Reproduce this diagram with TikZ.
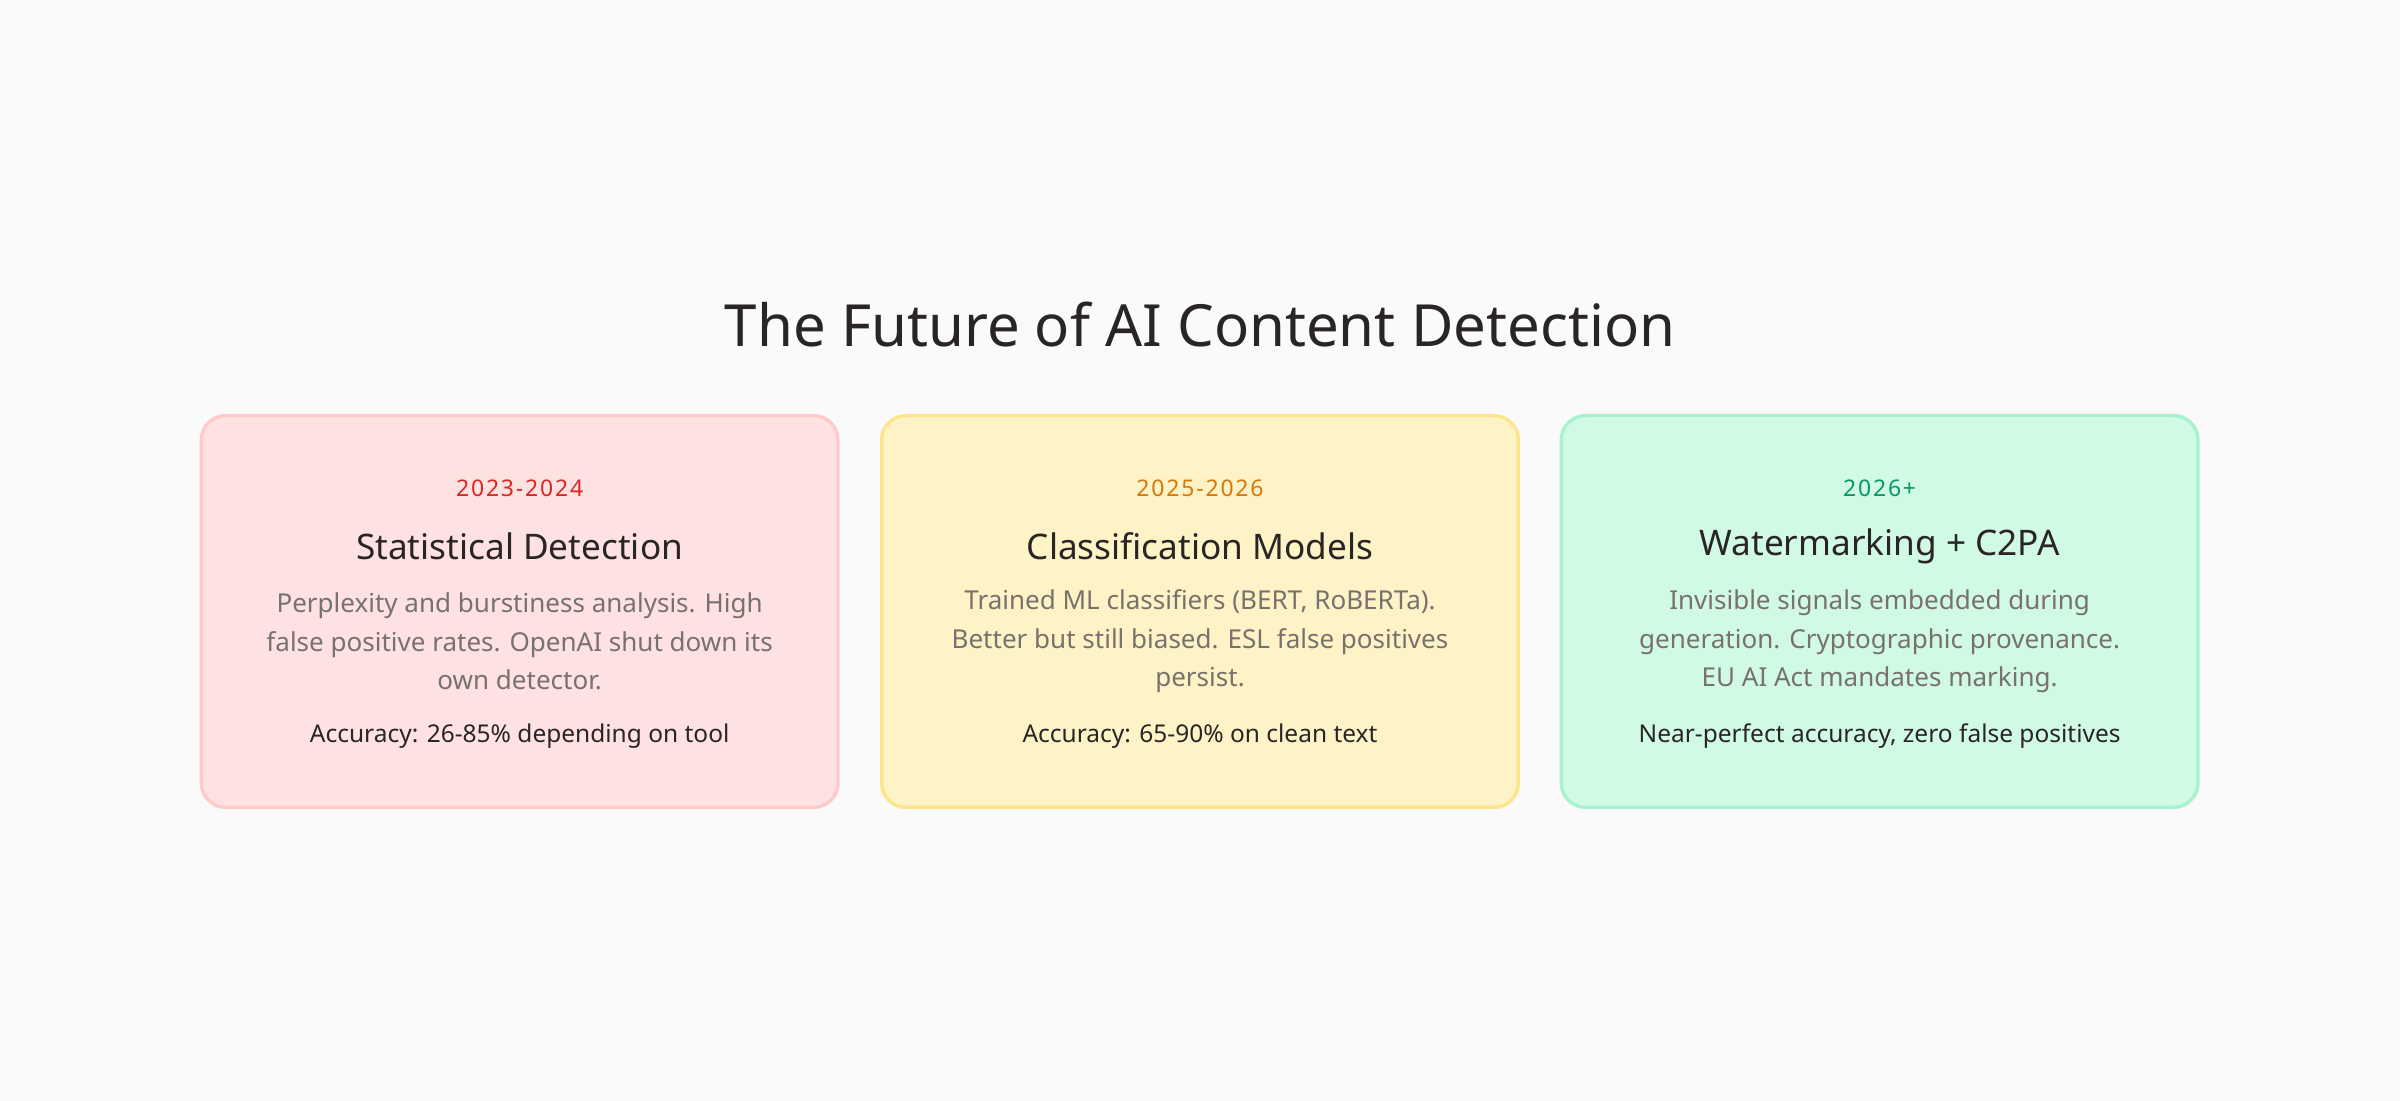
\documentclass[tikz,border=0pt]{standalone}
\usepackage{fontspec}
\setmainfont{Noto Sans}
\definecolor{bg}{HTML}{FAFAFA}
\definecolor{ink}{HTML}{292524}
\definecolor{gray}{HTML}{78716C}
\definecolor{fa}{HTML}{FEE2E2}\definecolor{ba}{HTML}{FECACA}\definecolor{ya}{HTML}{DC2626}
\definecolor{fb}{HTML}{FEF3C7}\definecolor{bb}{HTML}{FDE68A}\definecolor{yb}{HTML}{D97706}
\definecolor{fc}{HTML}{D1FAE5}\definecolor{bc}{HTML}{A7F3D0}\definecolor{yc}{HTML}{059669}
\tikzset{
 card/.style={draw=#1, line width=2.2pt, rounded corners=16pt, minimum width=416pt, minimum height=256pt, inner sep=0pt},
 yr/.style={text=#1, font=\fontsize{15}{18}\selectfont\bfseries\addfontfeature{LetterSpace=8}},
 hd/.style={text=ink, font=\fontsize{23}{28}\selectfont\bfseries},
 ds/.style={text=gray, font=\fontsize{17}{25.3}\selectfont, align=center},
 ac/.style={text=ink, font=\fontsize{16}{20}\selectfont\bfseries}
}
\begin{document}
\begin{tikzpicture}[x=1pt,y=-1pt]
\fill[bg] (0,0) rectangle (1568,719);
\useasboundingbox (0,0) rectangle (1568,719);
\node[text=ink, font=\fontsize{38}{44}\selectfont\bfseries] (title) at (784,212) {The Future of AI Content Detection};
\node[card=ba, fill=fa] (c1) at (339.5,399.5) {};
\node[card=bb, fill=fb] (c2) at (784,399.5) {};
\node[card=bc, fill=fc] (c3) at (1228,399.5) {};
\node[yr=ya] (y1) at (339.5,319) {2023-2024};
\node[yr=yb] (y2) at (784,319) {2025-2026};
\node[yr=yc] (y3) at (1228,319) {2026+};
\node[hd] (h1) at (339.5,357) {Statistical Detection};
\node[hd] (h2) at (784,357) {Classification Models};
\node[hd] (h3) at (1228,357) {Watermarking + C2PA};
\node[ds] (d1) at (339.5,419) {Perplexity and burstiness analysis. High\\false positive rates. OpenAI shut down its\\own detector.};
\node[ds] (d2) at (784,419) {Trained ML classifiers (BERT, RoBERTa).\\Better but still biased. ESL false positives\\persist.};
\node[ds] (d3) at (1228,419) {Invisible signals embedded during\\generation. Cryptographic provenance.\\EU AI Act mandates marking.};
\node[ac] (a1) at (339.5,481) {Accuracy: 26-85\% depending on tool};
\node[ac] (a2) at (784,481) {Accuracy: 65-90\% on clean text};
\node[ac] (a3) at (1228,481) {Near-perfect accuracy, zero false positives};
\end{tikzpicture}
\end{document}
